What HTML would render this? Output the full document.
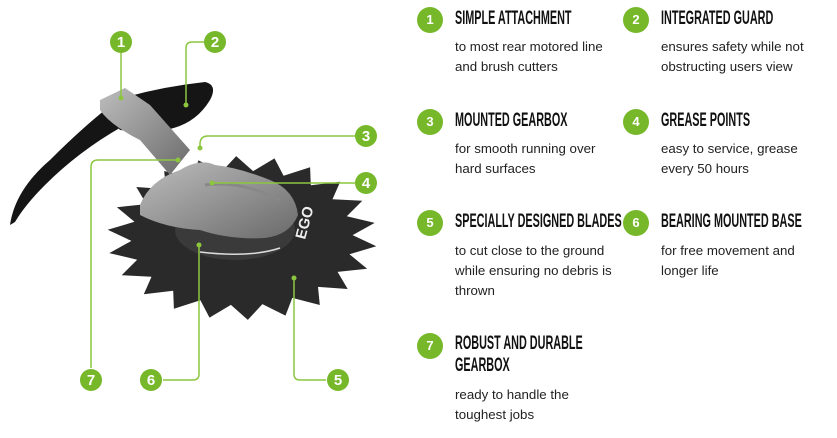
<!DOCTYPE html>
<html><head><meta charset="utf-8"><style>
body{margin:0;width:837px;height:438px;background:#fff;overflow:hidden;position:relative;font-family:"Liberation Sans",sans-serif;}
.c{position:absolute;width:26px;height:26px;border-radius:50%;background:#76b82a;color:#fff;font:bold 13px/26px "Liberation Sans",sans-serif;text-align:center;}
.h{position:absolute;font:bold 19px/22px "Liberation Sans",sans-serif;color:#111;transform:scaleX(.57);transform-origin:0 0;white-space:nowrap;}
.t{position:absolute;font:13.3px/20px "Liberation Sans",sans-serif;color:#222;}
</style></head><body>
<svg width="400" height="438" style="position:absolute;left:0;top:0">
<defs>
<linearGradient id="g" x1="0" y1="0" x2="1" y2="1"><stop offset="0" stop-color="#bdbdbd"/><stop offset="1" stop-color="#6a6a6a"/></linearGradient>
</defs>
<polygon id="gear" fill="#2a2a2a"/>
<ellipse cx="235" cy="230" rx="60" ry="30" fill="#3a3a3a"/>
<path d="M200 252 Q250 258 280 248" stroke="#ddd" stroke-width="1.5" fill="none"/>
<text x="305" y="240" fill="#eee" font-size="15" font-weight="bold" transform="rotate(-75 305 240)">EGO</text>
<path d="M10 225 Q15 190 50 160 Q80 130 105 110 L125 125 Q80 150 45 185 Q25 205 15 222Z" fill="#151515"/>
<path d="M100 105 Q150 88 205 82 Q218 85 210 100 Q195 125 165 130 Q140 132 120 130Z" fill="#151515"/>
<path d="M100 100 L125 88 L150 105 L190 150 L170 175 L140 140 Q110 125 100 110Z" fill="url(#g)"/>
<path d="M140 205 Q150 180 180 170 Q200 158 215 165 Q240 168 270 180 Q295 190 298 215 Q290 235 265 238 Q230 240 200 230 Q165 228 140 215Z" fill="url(#g)"/>
<path d="M205 185 Q240 180 280 200" stroke="#888" stroke-width="3" fill="none"/>
<g stroke="#8cc63f" stroke-width="1.5" fill="none">
<path d="M121 52 V98"/>
<path d="M205 42 H192 Q186 42 186 48 V105"/>
<path d="M355 136 H208 Q200 136 200 144 V148"/>
<path d="M355 183 H212"/>
<path d="M91 368 V167 Q91 160 98 160 H178"/>
<path d="M163 380 H193 Q199 380 199 374 V245"/>
<path d="M326 380 H300 Q294 380 294 374 V278"/>
</g>
<g fill="#8cc63f"><circle cx="121" cy="98" r="2.5"/><circle cx="186" cy="105" r="2.5"/><circle cx="200" cy="148" r="2.5"/><circle cx="212" cy="183" r="2.5"/><circle cx="178" cy="160" r="2.5"/><circle cx="199" cy="245" r="2.5"/><circle cx="294" cy="278" r="2.5"/></g>
<g fill="#76b82a"><circle cx="121" cy="42" r="11"/><circle cx="215" cy="42" r="11"/><circle cx="366" cy="136" r="11"/><circle cx="366" cy="183" r="11"/><circle cx="338" cy="380" r="11"/><circle cx="151" cy="380" r="11"/><circle cx="91" cy="380" r="11"/></g>
<g fill="#fff" font-family="Liberation Sans,sans-serif" font-weight="bold" font-size="15" text-anchor="middle">
<text x="121" y="47">1</text><text x="215" y="47">2</text><text x="366" y="141">3</text><text x="366" y="188">4</text><text x="338" y="385">5</text><text x="151" y="385">6</text><text x="91" y="385">7</text></g>
</svg>
<script>
(function(){var p=[],n=22,cx=242,cy=238,rx=135,ry=82;for(var i=0;i<n*2;i++){var a=i/(n*2)*Math.PI*2+.1,r=i%2?0.82:1;p.push((cx+Math.cos(a)*rx*r).toFixed(1)+","+(cy+Math.sin(a)*ry*r).toFixed(1));}document.getElementById("gear").setAttribute("points",p.join(" "));})();
</script>
<div class="c" style="left:417px;top:7px">1</div>
<div class="h" style="left:455px;top:8px">SIMPLE ATTACHMENT</div>
<div class="t" style="left:455px;top:37px">to most rear motored line<br>and brush cutters</div>
<div class="c" style="left:623px;top:7px">2</div>
<div class="h" style="left:661px;top:8px">INTEGRATED GUARD</div>
<div class="t" style="left:661px;top:37px">ensures safety while not<br>obstructing users view</div>
<div class="c" style="left:417px;top:109px">3</div>
<div class="h" style="left:455px;top:110px">MOUNTED GEARBOX</div>
<div class="t" style="left:455px;top:139px">for smooth running over<br>hard surfaces</div>
<div class="c" style="left:623px;top:109px">4</div>
<div class="h" style="left:661px;top:110px">GREASE POINTS</div>
<div class="t" style="left:661px;top:139px">easy to service, grease<br>every 50 hours</div>
<div class="c" style="left:417px;top:210px">5</div>
<div class="h" style="left:455px;top:211px">SPECIALLY DESIGNED BLADES</div>
<div class="t" style="left:455px;top:241px">to cut close to the ground<br>while ensuring no debris is<br>thrown</div>
<div class="c" style="left:623px;top:210px">6</div>
<div class="h" style="left:661px;top:211px">BEARING MOUNTED BASE</div>
<div class="t" style="left:661px;top:241px">for free movement and<br>longer life</div>
<div class="c" style="left:417px;top:333px">7</div>
<div class="h" style="left:455px;top:333px">ROBUST AND DURABLE<br>GEARBOX</div>
<div class="t" style="left:455px;top:385px">ready to handle the<br>toughest jobs</div>
</body></html>
